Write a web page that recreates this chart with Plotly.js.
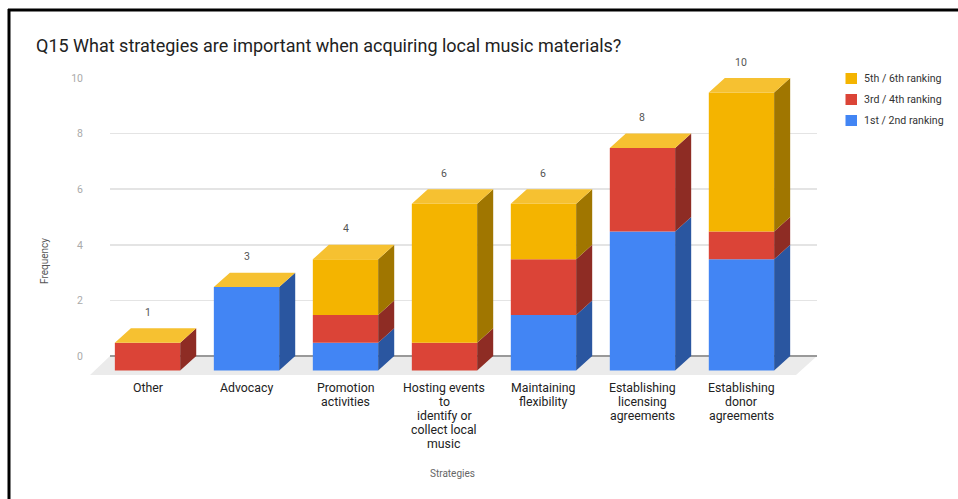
<!DOCTYPE html>
<html>
<head>
<meta charset="utf-8">
<script src="https://cdn.plot.ly/plotly-3.0.1.min.js"></script>
<style>html,body{margin:0;padding:0;background:#fff;}#chart{width:958px;height:499px;}</style>
</head>
<body>
<div id="chart"></div>
<script>
// Survey responses per strategy, split by ranking band
const categories = ['Other', 'Advocacy', 'Promotion<br>activities', 'Hosting events<br>to<br>identify or<br>collect local<br>music', 'Maintaining<br>flexibility', 'Establishing<br>licensing<br>agreements', 'Establishing<br>donor<br>agreements'];
const rank12 = [0, 3, 1, 0, 2, 5, 4];
const rank34 = [1, 0, 1, 1, 2, 3, 1];
const rank56 = [0, 0, 2, 5, 2, 0, 5];
const totals = [1, 3, 4, 6, 6, 8, 10];
const positions = categories.map((_, i) => i);

// Pseudo-3D extrusion, in axis units
const barWidth = 0.66;
const depthX = 0.162;
const depthY = 0.52;

// Plot box in pixels; used to place the page furniture around it
const box = {l: 110, r: 817, t: 78, b: 375};
const paperX = px => (px - box.l) / (box.r - box.l);
const paperY = py => (box.b - py) / (box.b - box.t);

const series = [
  {name: '1st / 2nd ranking', values: rank12, front: '#4285f4', side: '#2a56a0'},
  {name: '3rd / 4th ranking', values: rank34, front: '#db4437', side: '#8e2c24'},
  {name: '5th / 6th ranking', values: rank56, front: '#f4b400', side: '#a07600'}
];

const traces = [];
const cumulative = positions.map(() => 0);
series.forEach(s => {
  const bases = cumulative.slice();
  const tops = bases.map((b, i) => b + s.values[i]);
  // Front faces sit in front of the gridline plane
  traces.push({
    type: 'bar', name: s.name, x: positions, y: s.values,
    base: bases.map(b => b - depthY), width: barWidth,
    marker: {color: s.front, line: {width: 0}},
    hoverinfo: 'skip', showlegend: false
  });
  // Right-hand side faces
  const sx = [], sy = [];
  positions.forEach((p, i) => {
    if (s.values[i] === 0) return;
    const r = p + barWidth / 2;
    sx.push(r, r + depthX, r + depthX, r, r, null);
    sy.push(bases[i] - depthY, bases[i], tops[i], tops[i] - depthY, bases[i] - depthY, null);
  });
  traces.push({
    type: 'scatter', mode: 'lines', x: sx, y: sy, fill: 'toself',
    fillcolor: s.side, line: {width: 0, color: s.side},
    showlegend: false, hoverinfo: 'skip'
  });
  tops.forEach((t, i) => { cumulative[i] = t; });
});

// Top faces take the colour of the last series in every stack
const topX = [], topY = [];
positions.forEach((p, i) => {
  const l = p - barWidth / 2, r = p + barWidth / 2, t = cumulative[i];
  topX.push(l, r, r + depthX, l + depthX, l, null);
  topY.push(t - depthY, t - depthY, t, t, t - depthY, null);
});
traces.push({
  type: 'scatter', mode: 'lines', x: topX, y: topY, fill: 'toself',
  fillcolor: '#f6c131', line: {width: 0, color: '#f6c131'},
  showlegend: false, hoverinfo: 'skip'
});

const family = 'Roboto, sans-serif';

// Stack totals above each bar
const annotations = positions.map((p, i) => ({
  x: p, y: totals[i], xref: 'x', yref: 'y', text: String(totals[i]),
  showarrow: false, yshift: 16, font: {family, size: 10.5, color: '#555'}
}));

// Category labels, set line by line for tight leading
const labelLeading = 14.2;
categories.forEach((label, i) => {
  label.split('<br>').forEach((line, n) => {
    annotations.push({
      x: positions[i], xref: 'x', y: 0, yref: 'paper', yanchor: 'middle',
      yshift: -(12.5 + n * labelLeading), text: line, showarrow: false,
      font: {family, size: 12.3, color: '#222'}
    });
  });
});

// Axis titles
annotations.push(
  {xref: 'paper', yref: 'paper', x: paperX(452), y: paperY(473), xanchor: 'center', yanchor: 'middle',
   text: 'Strategies', showarrow: false, font: {family, size: 10, color: '#666'}},
  {xref: 'paper', yref: 'paper', x: paperX(44), y: paperY(261), xanchor: 'center', yanchor: 'middle',
   text: 'Frequency', showarrow: false, textangle: -90, font: {family, size: 10, color: '#555'}}
);

const shapes = [
  // Floor of the chart
  {type: 'path', xref: 'paper', yref: 'paper', layer: 'below', line: {width: 0}, fillcolor: '#ebebeb',
   path: `M ${paperX(90)},0 L 0,${paperY(356)} L 1,${paperY(356)} L ${paperX(796)},0 Z`},
  // Frame lines along the top and left
  {type: 'line', xref: 'paper', yref: 'paper', layer: 'above', line: {width: 3, color: '#000'},
   x0: paperX(8), x1: paperX(958), y0: paperY(10), y1: paperY(10)},
  {type: 'line', xref: 'paper', yref: 'paper', layer: 'above', line: {width: 3, color: '#000'},
   x0: paperX(9), x1: paperX(9), y0: paperY(9), y1: paperY(499)}
];

// Legend, newest band first
[...series].reverse().forEach((s, n) => {
  const cy = 78.5 + n * 21;
  shapes.push({type: 'rect', xref: 'paper', yref: 'paper', line: {width: 0}, fillcolor: s.front,
    x0: paperX(845.5), x1: paperX(857), y0: paperY(cy - 5.5), y1: paperY(cy + 5.5)});
  annotations.push({xref: 'paper', yref: 'paper', x: paperX(864), y: paperY(cy), xanchor: 'left', yanchor: 'middle',
    xshift: -2, text: s.name, showarrow: false, font: {family, size: 10.6, color: '#333'}});
});

const layout = {
  width: 958, height: 499,
  paper_bgcolor: '#fff', plot_bgcolor: 'rgba(0,0,0,0)',
  margin: {l: box.l, r: 958 - box.r, t: box.t, b: 499 - box.b, pad: 0},
  title: {text: 'Q15 What strategies are important when acquiring local music materials?',
          x: 36 / 958, xanchor: 'left', y: 1 - 46 / 499, yanchor: 'middle',
          font: {family, size: 18, color: '#222'}},
  barmode: 'overlay',
  showlegend: false,
  xaxis: {range: [-0.379, 6.763], tickmode: 'array', tickvals: positions, showticklabels: false,
          showgrid: false, zeroline: false, showline: false, ticks: ''},
  yaxis: {range: [-0.68, 10], tickmode: 'array', tickvals: [0, 2, 4, 6, 8, 10],
          showgrid: true, gridcolor: '#e4e4e4', gridwidth: 1.5,
          zeroline: true, zerolinecolor: '#999', zerolinewidth: 1.5, showline: false,
          ticks: '', ticklabelstandoff: 26,
          tickfont: {family, size: 10.5, color: '#aaa'}},
  annotations, shapes
};

Plotly.newPlot('chart', traces, layout, {displayModeBar: false, staticPlot: true});
</script>
</body>
</html>
